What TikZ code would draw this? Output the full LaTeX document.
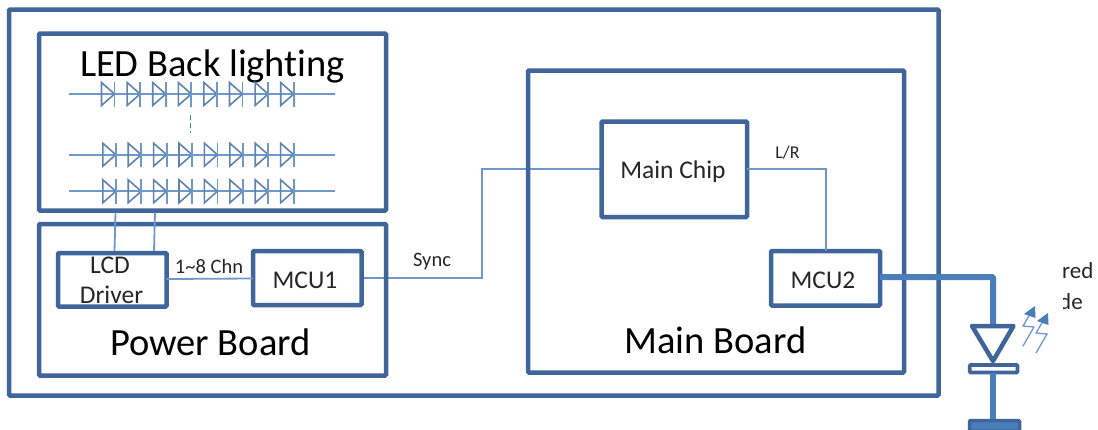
\documentclass[tikz,border=0pt]{standalone}
\usepackage{fontspec}
\setmainfont[Ligatures=NoCommon]{Carlito}
\usetikzlibrary{backgrounds}
\definecolor{boxblue}{HTML}{3F659A}
\definecolor{wireblue}{HTML}{6F98CC}
\definecolor{ledblue}{HTML}{4A7EBB}
\definecolor{diodeblue}{HTML}{5F84B0}
\tikzset{
  x=1pt,y=-1pt,
  blockbox/.style={draw=boxblue,line width=4.5pt,rounded corners=1pt,inner sep=0pt,outer sep=0pt,anchor=north west},
  wire/.style={draw=wireblue,line width=1.8pt},
  bigtext/.style={font=\fontsize{38.5}{40}\selectfont,text=black,inner sep=0pt,anchor=base},
  midtext/.style={font=\fontsize{25.5}{27}\selectfont,text=black!85,inner sep=0pt,anchor=base},
  smalltext/.style={font=\fontsize{20.5}{22}\selectfont,text=black!85,inner sep=0pt,anchor=base},
  sidetext/.style={font=\fontsize{23}{25}\selectfont,text=black!85,inner sep=0pt,anchor=base west},
}
\newcommand{\ledrow}[3]{%
  \foreach \k in {0,...,7}{%
    \pgfmathsetmacro{\xa}{#1+#3*\k}
    \draw[draw=diodeblue,line width=1.6pt,line join=miter] (\xa,#2-11.5) -- (\xa+13,#2) -- (\xa,#2+11.5) -- cycle;
    \draw[draw=wireblue,line width=1.8pt] (\xa+13,#2-12) -- (\xa+13,#2+12.5);
  }
}
\begin{document}
\begin{tikzpicture}
\useasboundingbox (0,0) rectangle (1098,429);
% blocks
\node[blockbox,minimum width=929.5pt,minimum height=386pt] (outer) at (9,9.5) {};
\node[blockbox,minimum width=347pt,minimum height=177pt] (ledbox) at (39,33.5) {};
\node[blockbox,minimum width=347pt,minimum height=151.5pt] (powerbox) at (39,224) {};
\node[blockbox,minimum width=108.5pt,minimum height=53.5pt] (lcd) at (58,253) {};
\node[blockbox,minimum width=108.5pt,minimum height=54pt] (mcua) at (253,251) {};
\node[blockbox,minimum width=376pt,minimum height=302pt] (mainboard) at (528,70.5) {};
\node[blockbox,minimum width=145.5pt,minimum height=95.5pt] (chip) at (601.5,121.5) {};
\node[blockbox,minimum width=109pt,minimum height=54.5pt] (mcub) at (771,251) {};
% labels
\node[bigtext] (ledlabel) at (212.5,76) {LED Back lighting};
\node[bigtext] (powerlabel) at (210.5,355) {Power Board};
\node[bigtext] (mainlabel) at (715.3,353) {Main Board};
\node[midtext] (lcdl) at (110,273) {LCD};
\node[midtext] (lcdd) at (111.5,303) {Driver};
\node[midtext] (mcual) at (305,288) {MCU1};
\node[midtext] (chipl) at (673,178) {Main Chip};
\node[midtext] (mcubl) at (823,288) {MCU2};
\node[smalltext] (chn) at (209,273) {1\textasciitilde 8 Chn};
\node[smalltext] (sync) at (432,266) {Sync};
\node[font=\fontsize{18}{20}\selectfont,text=black!85,inner sep=0pt,anchor=base] (lr) at (787.5,158) {L/R};
\begin{scope}
  \clip (1063,250) rectangle (1098,320);
  \node[sidetext] (redl) at (1062,278) {red};
  \node[sidetext] (del) at (1059,309) {de};
\end{scope}
% LED strings
\coordinate (r1a) at (69,94); \coordinate (r1b) at (335,94);
\coordinate (r2a) at (69,154.7); \coordinate (r2b) at (335,154.7);
\coordinate (r3a) at (69,191.3); \coordinate (r3b) at (335,191.3);
\draw[wire] (r1a) -- (r1b);
\draw[wire] (r2a) -- (r2b);
\draw[wire] (r3a) -- (r3b);
\ledrow{101.5}{94}{25.6}
\ledrow{102.8}{154.7}{25.4}
\ledrow{102.8}{191.3}{25.4}
\coordinate (dota) at (190.4,115); \coordinate (dotb) at (190.4,133);
\draw[draw=ledblue,line width=1.6pt,dash pattern=on 5pt off 3pt] (dota) -- (dotb);
% connectors
\coordinate (lcdtopa) at (114.5,250.8);
\coordinate (lcdtopb) at (154,250.8);
\coordinate (ledbota) at (115.5,212.7);
\coordinate (ledbotb) at (155,212.7);
\draw[wire] (ledbota) -- (lcdtopa);
\draw[wire] (ledbotb) -- (lcdtopb);
\draw[wire] (lcd.east |- 0,279) -- (mcua.west |- 0,278.5);
\begin{scope}[on background layer]
  \draw[wire] (mcua.east |- 0,278) -- (481.7,278) -- (481.7,169.3) -- (chip.west |- 0,169.3);
\end{scope}
\draw[wire] (chip.east |- 0,169.3) -- (825.7,169.3) -- (mcub.north -| 825.7,0);
\draw[draw=ledblue,line width=6pt,rounded corners=1pt] (mcub.east |- 0,277) -- (993,277) -- (993,326);
% LED symbol
\coordinate (ledbar) at (993,372.5);
\coordinate (ledgnd) at (993,420);
\draw[draw=boxblue,line width=4.5pt,line join=round] (972,326) -- (1013.5,326) -- (993,361) -- cycle;
\draw[draw=boxblue,line width=3.8pt,fill=white,rounded corners=1pt] (969.8,365) rectangle (1017.5,372.5);
\draw[draw=ledblue,line width=5.5pt] (ledbar) -- (ledgnd);
\draw[draw=boxblue,line width=3.5pt,fill=ledblue,rounded corners=1pt] (969.5,420.5) rectangle (1019.5,431);
% light arrows
\foreach \dx/\dy in {0/0,13/7}{
  \draw[draw=wireblue,line width=1.3pt] (1023+\dx,346+\dy) -- (1034+\dx,327+\dy) -- (1023+\dx,326+\dy) -- (1029.5+\dx,315+\dy);
  \fill[ledblue] (1035+\dx,306+\dy) -- (1024+\dx,314+\dy) -- (1035.5+\dx,318+\dy) -- cycle;
}
\end{tikzpicture}
\end{document}
